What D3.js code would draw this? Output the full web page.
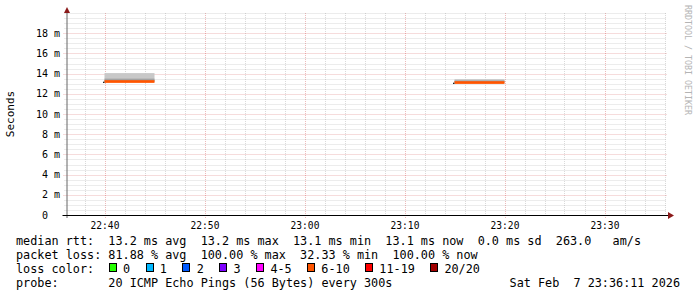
<!DOCTYPE html>
<html>
<head>
<meta charset="utf-8">
<script src="https://cdn.jsdelivr.net/npm/d3@7"></script>
<style>
  body { margin: 0; background: #fff; }
  svg text { font-family: "DejaVu Sans Mono", monospace; }
</style>
</head>
<body>
<div id="chart"></div>
<script>
// values
let segStart = ["22:40:00", "23:15:00"]
let segEnd = ["22:45:00", "23:20:00"]
let medianMs = [13.2, 13.1]
let segLoss = ["6-10", "6-10"]
let smokeOuter = [[13.2, 14.05], [13.1, 13.45]]
let smokeInner = [[13.2, 13.5], [13.1, 13.32]]

let yTicks = [0, 2, 4, 6, 8, 10, 12, 14, 16, 18]
let xTicks = ["22:40", "22:50", "23:00", "23:10", "23:20", "23:30"]

let lossLabels = ["0", "1", "2", "3", "4-5", "6-10", "11-19", "20/20"]
let lossColors = ["#26ff00", "#00b8ff", "#0059ff", "#7e00ff", "#ff00ff", "#ff5500", "#ff0000", "#a10000"]

let legendLines = [
    "median rtt:  13.2 ms avg  13.2 ms max  13.1 ms min  13.1 ms now  0.0 ms sd  263.0   am/s",
    "packet loss: 81.88 % avg  100.00 % max  32.33 % min  100.00 % now",
    "loss color:",
    "probe:       20 ICMP Echo Pings (56 Bytes) every 300s"
]
let stamp = "Sat Feb  7 23:36:11 2026"

width = 697
height = 297
plotLeft = 66.5
plotRight = 666.5
plotBottom = 215
plotTop = 13

parseTime = d3.timeParse("%Y-%m-%d %H:%M:%S")
function t(s){ return parseTime("2026-02-07 " + (s.length == 5 ? s + ":00" : s)) }

lossColor = d3.scaleOrdinal().domain(lossLabels).range(lossColors)

x = d3.scaleTime()
    .domain([t("22:36:12"), t("23:36:12")])
    .range([plotLeft, plotRight])
y = d3.scaleLinear()
    .domain([0, 20])
    .range([plotBottom, plotTop])

svg = d3.select("#chart").append("svg")
    .attr("width", width)
    .attr("height", height)

// grid
minorGrid = "rgba(140,140,140,0.32)"
majorGrid = "rgba(200,40,40,0.32)"
grid = svg.append("g")

xMinor = d3.timeMinute.every(2).range(x.domain()[0], x.domain()[1])
grid.selectAll(".vminor").data(xMinor.filter(d => d.getMinutes() % 10 != 0))
    .enter().append("line")
    .attr("x1", d => Math.round(x(d)) + 0.5).attr("x2", d => Math.round(x(d)) + 0.5)
    .attr("y1", plotTop).attr("y2", plotBottom + 2)
    .attr("stroke", minorGrid).attr("stroke-dasharray", "1,1")
grid.selectAll(".vmajor").data(xTicks)
    .enter().append("line")
    .attr("x1", d => Math.round(x(t(d))) + 0.5).attr("x2", d => Math.round(x(t(d))) + 0.5)
    .attr("y1", plotTop).attr("y2", plotBottom + 3)
    .attr("stroke", majorGrid).attr("stroke-dasharray", "1,1")

yMinor = d3.range(0.5, 20.01, 0.5).filter(v => !yTicks.includes(v))
grid.selectAll(".hminor").data(yMinor)
    .enter().append("line")
    .attr("x1", plotLeft - 2).attr("x2", plotRight)
    .attr("y1", d => Math.round(y(d)) + 0.5).attr("y2", d => Math.round(y(d)) + 0.5)
    .attr("stroke", minorGrid).attr("stroke-dasharray", "1,1")
grid.selectAll(".hmajor").data(yTicks.filter(v => v > 0))
    .enter().append("line")
    .attr("x1", plotLeft - 3).attr("x2", plotRight)
    .attr("y1", d => Math.round(y(d)) + 0.5).attr("y2", d => Math.round(y(d)) + 0.5)
    .attr("stroke", majorGrid).attr("stroke-dasharray", "1,1")

// smoke + median
segs = segStart.map((s, i) => ({
    start: t(s), end: t(segEnd[i]), median: medianMs[i], loss: segLoss[i],
    outer: smokeOuter[i], inner: smokeInner[i]
}))
data = svg.append("g")
data.selectAll(".outer").data(segs).enter().append("rect")
    .attr("x", d => x(d.start)).attr("width", d => x(d.end) - x(d.start))
    .attr("y", d => y(d.outer[1])).attr("height", d => y(d.outer[0]) - y(d.outer[1]))
    .attr("fill", "#c8c8c8")
data.selectAll(".inner").data(segs).enter().append("rect")
    .attr("x", d => x(d.start)).attr("width", d => x(d.end) - x(d.start))
    .attr("y", d => y(d.inner[1])).attr("height", d => y(d.inner[0]) - y(d.inner[1]))
    .attr("fill", "#a2a2a2")
data.selectAll(".median").data(segs).enter().append("rect")
    .attr("x", d => x(d.start)).attr("width", d => x(d.end) - x(d.start))
    .attr("y", d => y(d.median) - 1.5).attr("height", 2.7)
    .attr("fill", d => lossColor(d.loss))
data.selectAll(".tick0").data(segs).enter().append("rect")
    .attr("x", d => x(d.start) - 1.5).attr("width", 1.5)
    .attr("y", d => y(d.median)).attr("height", 1.3)
    .attr("fill", "#202020")

// axes
axes = svg.append("g")
axes.append("line")
    .attr("x1", plotLeft + 0.5).attr("x2", plotLeft + 0.5)
    .attr("y1", plotBottom + 3).attr("y2", 10)
    .attr("stroke", "#666")
axes.append("line")
    .attr("x1", plotLeft - 4).attr("x2", 670)
    .attr("y1", plotBottom + 0.5).attr("y2", plotBottom + 0.5)
    .attr("stroke", "#000")
axes.append("path")
    .attr("d", "M" + (plotLeft - 2.5) + ",13 L" + (plotLeft + 0.5) + ",7 L" + (plotLeft + 3.5) + ",13 Z")
    .attr("fill", "#8b1a1a")
axes.append("path")
    .attr("d", "M668,212 L674,215.5 L668,219 Z")
    .attr("fill", "#8b1a1a")

svg.selectAll(".ylab").data(yTicks).enter().append("text")
    .attr("x", 60).attr("y", d => y(d) + 3.6)
    .attr("text-anchor", "end")
    .attr("xml:space", "preserve")
    .style("white-space", "pre")
    .attr("font-size", "10px")
    .attr("fill", "#000")
    .text(d => d == 0 ? "0  " : d + " m")

svg.selectAll(".xlab").data(xTicks).enter().append("text")
    .attr("x", d => x(t(d)) + 0.5).attr("y", 228.5)
    .attr("text-anchor", "middle")
    .attr("font-size", "9.6px")
    .attr("fill", "#000")
    .text(d => d)

svg.append("text")
    .attr("transform", "translate(14,114) rotate(-90)")
    .attr("text-anchor", "middle")
    .attr("font-size", "11px")
    .attr("fill", "#000")
    .text("Seconds")

svg.append("text")
    .attr("transform", "translate(685,60) rotate(90)")
    .attr("text-anchor", "middle")
    .attr("font-size", "8.3px")
    .attr("fill", "#b4b4b4")
    .text("RRDTOOL / TOBI OETIKER")

// legend
legend = svg.append("g")
legend.selectAll(".leg").data(legendLines).enter().append("text")
    .attr("x", 16).attr("y", (d, i) => 245 + i * 14)
    .attr("xml:space", "preserve")
    .style("white-space", "pre")
    .attr("font-size", "11.8px")
    .attr("fill", "#000")
    .text(d => d)

legend.append("text")
    .attr("x", 680).attr("y", 287)
    .attr("text-anchor", "end")
    .attr("xml:space", "preserve")
    .style("white-space", "pre")
    .attr("font-size", "11.8px")
    .attr("fill", "#000")
    .text(stamp)

charW = 7.05
boxX = 108.7
lossLabels.forEach(function(lbl){
    legend.append("rect")
        .attr("x", Math.round(boxX) + 0.5).attr("y", 263.5)
        .attr("width", 7).attr("height", 8)
        .attr("fill", lossColor(lbl))
        .attr("stroke", "#000")
    legend.append("text")
        .attr("x", boxX + 14.3).attr("y", 273)
        .attr("font-size", "11.8px")
        .attr("fill", "#000")
        .text(lbl)
    boxX = boxX + 14.3 + lbl.length * charW + 15.5
})
</script>
</body>
</html>
